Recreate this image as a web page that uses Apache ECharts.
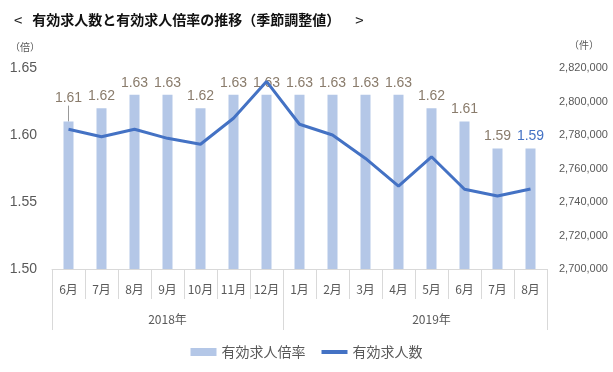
<!DOCTYPE html>
<html>
<head>
<meta charset="utf-8">
<script src="https://cdn.jsdelivr.net/npm/echarts@6/dist/echarts.min.js"></script>
<style>html,body{margin:0;padding:0;background:#fff}#c{width:613px;height:372px}</style>
</head>
<body>
<div id="c"></div>
<script>
const months = ['6月','7月','8月','9月','10月','11月','12月','1月','2月','3月','4月','5月','6月','7月','8月'];
const years = ['2018年','2019年'];
const ratio = [1.61,1.62,1.63,1.63,1.62,1.63,1.63,1.63,1.63,1.63,1.63,1.62,1.61,1.59,1.59];
const count = [2783400,2779000,2783400,2778000,2774500,2790000,2812000,2786400,2780000,2766000,2749500,2767000,2747600,2743600,2747800];
const leftTicks = [1.50,1.55,1.60,1.65];
const rightTicks = [2700000,2720000,2740000,2760000,2780000,2800000,2820000];

const numFont = "'Liberation Sans',Arial,sans-serif";
const jp = "'Noto Sans CJK JP',sans-serif";
const gray = '#595959';
const border = '#d9d9d9';

const barData = ratio.map((v, i) => {
  const d = { value: v };
  if (i !== 0) d.labelLine = { show: false };
  if (i === ratio.length - 1) d.label = { color: '#4472c4' };
  return d;
});

const chart = echarts.init(document.getElementById('c'));
chart.setOption({
  animation: false,
  title: {
    left: 9, top: 6,
    text: '{a|<}  {b|有効求人数と有効求人倍率の推移（季節調整値）}   {a|>}',
    textStyle: {
      rich: {
        a: { fontFamily: jp, fontSize: 15, fontWeight: 'normal', color: '#222' },
        b: { fontFamily: jp, fontSize: 14, fontWeight: 'bold', color: '#111' }
      }
    }
  },
  legend: {
    bottom: 8, left: 'center',
    itemWidth: 26, itemHeight: 8, itemGap: 14,
    textStyle: { fontFamily: jp, fontSize: 14, color: gray },
    data: [
      { name: '有効求人倍率', icon: 'rect' },
      { name: '有効求人数', itemStyle: { opacity: 0 }, lineStyle: { width: 4, color: '#4472c4' } }
    ]
  },
  grid: { left: 52, right: 66, top: 68, bottom: 103, containLabel: false },
  xAxis: [
    {
      type: 'category', data: months, position: 'bottom',
      axisLine: { show: true, lineStyle: { color: border } },
      axisTick: { show: true, length: 30, interval: 0, lineStyle: { color: border } },
      axisLabel: { interval: 0, margin: 14, fontFamily: jp, fontSize: 12, color: gray }
    },
    {
      type: 'value', min: 0, max: months.length, position: 'bottom', offset: 30,
      axisLine: { show: false },
      splitLine: { show: false },
      axisTick: { show: true, length: 31, customValues: [0, 7, 15], lineStyle: { color: border } },
      axisLabel: {
        customValues: [3.5, 11.5], margin: 14, fontFamily: jp, fontSize: 12, color: gray,
        formatter: v => (v < 7 ? years[0] : years[1])
      }
    }
  ],
  yAxis: [
    {
      type: 'value', min: leftTicks[0], max: leftTicks[leftTicks.length - 1], interval: 0.05,
      name: '（倍）', nameLocation: 'end', nameGap: 16,
      nameTextStyle: { fontFamily: jp, fontSize: 10, color: gray, align: 'right', padding: [0, 12, 0, 0] },
      axisLine: { show: false }, axisTick: { show: false }, splitLine: { show: false },
      axisLabel: { margin: 15, fontFamily: numFont, fontSize: 14, color: gray, formatter: v => v.toFixed(2) }
    },
    {
      type: 'value', min: rightTicks[0], max: rightTicks[rightTicks.length - 1], interval: 20000,
      name: '（件）', nameLocation: 'end', nameGap: 18,
      nameTextStyle: { fontFamily: jp, fontSize: 10, color: gray, align: 'left', padding: [0, 0, 0, 22] },
      axisLine: { show: false }, axisTick: { show: false }, splitLine: { show: false },
      axisLabel: { margin: 12, fontFamily: numFont, fontSize: 11, color: gray,
        formatter: v => v.toLocaleString('en-US') }
    }
  ],
  series: [
    {
      name: '有効求人倍率', type: 'bar', xAxisIndex: 0, yAxisIndex: 0,
      data: barData, barWidth: 10,
      itemStyle: { color: '#b4c7e7' },
      label: { show: true, position: 'top', distance: 5, fontFamily: numFont, fontSize: 14, color: '#8a7c6c',
        formatter: p => p.value.toFixed(2) },
      labelLine: { show: true, lineStyle: { color: '#999999', width: 1 } },
      labelLayout: p => (p.dataIndex === 0 ? { dy: -11 } : {})
    },
    {
      name: '有効求人数', type: 'line', xAxisIndex: 0, yAxisIndex: 1,
      data: count, symbol: 'none', z: 5,
      lineStyle: { color: '#4472c4', width: 3 },
      itemStyle: { color: '#4472c4' }
    }
  ]
});
</script>
</body>
</html>
